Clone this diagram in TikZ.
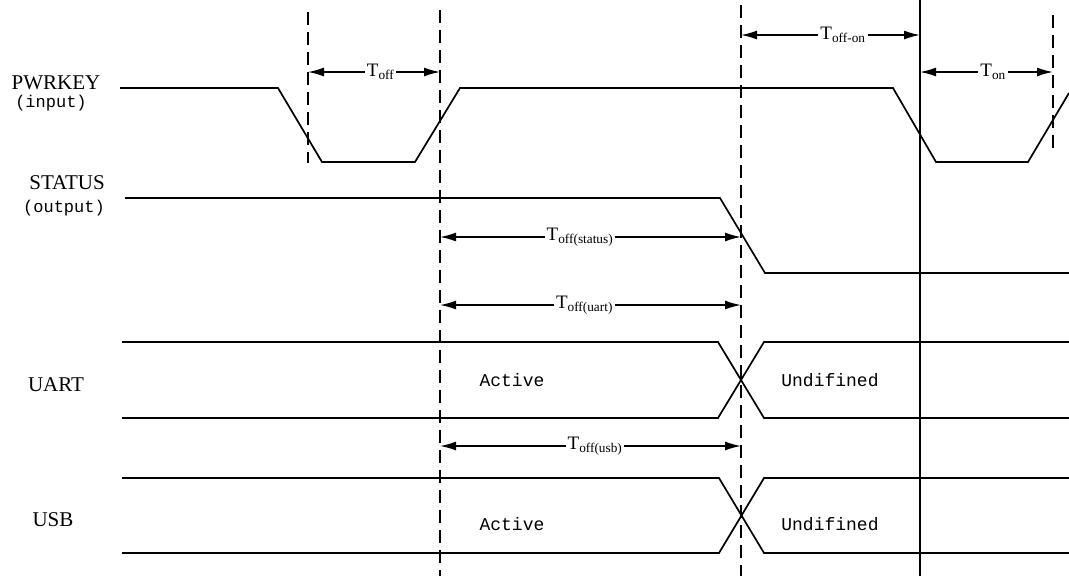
\documentclass[tikz,border=0pt]{standalone}
\usepackage{fontspec}
\setmainfont{Liberation Serif}
\newfontfamily\monofont{Liberation Mono}
\usetikzlibrary{arrows.meta}

\tikzset{
  sig/.style = {line width=1.7pt},
  marker/.style = {line width=1.5pt, dash pattern=on 13pt off 7pt},
  span/.style = {line width=1.5pt, {Latex[length=16pt,width=9pt]}-{Latex[length=16pt,width=9pt]}},
  spanlabel/.style = {fill=white, inner sep=2pt, font=\fontsize{19}{21}\selectfont},
  namelabel/.style = {inner sep=0pt, font=\fontsize{21}{24}\selectfont},
  monolabel/.style = {inner sep=0pt, font=\monofont\fontsize{17}{20}\selectfont},
  statelabel/.style = {inner sep=0pt, font=\monofont\fontsize{18}{20}\selectfont},
}

\begin{document}
\begin{tikzpicture}[x = 1pt, y = -1pt]
	\useasboundingbox (0, 0) rectangle (1069, 576);
	% time marks
	\coordinate (m1) at (308, 0);
	\coordinate (m2) at (440, 0);
	\coordinate (m3) at (741, 0);
	\coordinate (m4) at (920, 0);
	\coordinate (m5) at (1053, 0);
	\draw[marker] (m1 |- 0,12) -- (m1 |- 0,163);
	\draw[marker] (m2 |- 0,10) -- (m2 |- 0,576);
	\draw[marker] (m3 |- 0,5) -- (m3 |- 0,576);
	\draw[sig] (m4) -- (m4 |- 0,576);
	\draw[marker] (m5 |- 0,15) -- (m5 |- 0,150);

	% signal names
	\node[namelabel] (pwrkey) at (56, 83) {PWRKEY};
	\node[monolabel] (pwrin) at (51, 103) {(input)};
	\node[namelabel] (status) at (67, 183) {STATUS};
	\node[monolabel] (statout) at (64, 208) {(output)};
	\node[namelabel] (uart) at (56, 385) {UART};
	\node[namelabel] (usb) at (53, 520) {USB};

	% waveforms
	\draw[sig] (120, 88) -- (278, 88) -- (322, 162) -- (415, 162) -- (460, 88) -- (893, 88) -- (936, 162) -- (1028, 162) -- (1069, 93);
	\draw[sig] (125, 198) -- (720, 198) -- (765, 273) -- (1069, 273);
	\draw[sig] (122, 342) -- (718, 342) -- (764, 418) -- (1069, 418);
	\draw[sig] (122, 418) -- (718, 418) -- (764, 342) -- (1069, 342);
	\draw[sig] (122, 478) -- (719, 478) -- (764, 553) -- (1069, 553);
	\draw[sig] (122, 553) -- (719, 553) -- (764, 478) -- (1069, 478);

	\node[statelabel] (uartact) at (512, 380) {Active};
	\node[statelabel] (uartund) at (830, 380) {Undifined};
	\node[statelabel] (usbact) at (512, 524) {Active};
	\node[statelabel] (usbund) at (830, 524) {Undifined};

	% timing spans
	\draw[span] (m1 |- 0,72) -- node[spanlabel, pos=.55] (toff) {T\textsubscript{off}} (m2 |- 0,72);
	\draw[span] (m3 |- 0,35) -- node[spanlabel, pos=.57] (toffon) {T\textsubscript{off-on}} (m4 |- 0,35);
	\draw[span] (m4 |- 0,72) -- node[spanlabel, pos=.55] (ton) {T\textsubscript{on}} (m5 |- 0,72);
	\draw[span] (m2 |- 0,237) -- node[spanlabel, pos=.465] (tstatus) {T\textsubscript{off(status)}} (m3 |- 0,237);
	\draw[span] (m2 |- 0,305) -- node[spanlabel, pos=.48] (tuart) {T\textsubscript{off(uart)}} (m3 |- 0,305);
	\draw[span] (m2 |- 0,446) -- node[spanlabel, pos=.515] (tusb) {T\textsubscript{off(usb)}} (m3 |- 0,446);
\end{tikzpicture}
\end{document}
